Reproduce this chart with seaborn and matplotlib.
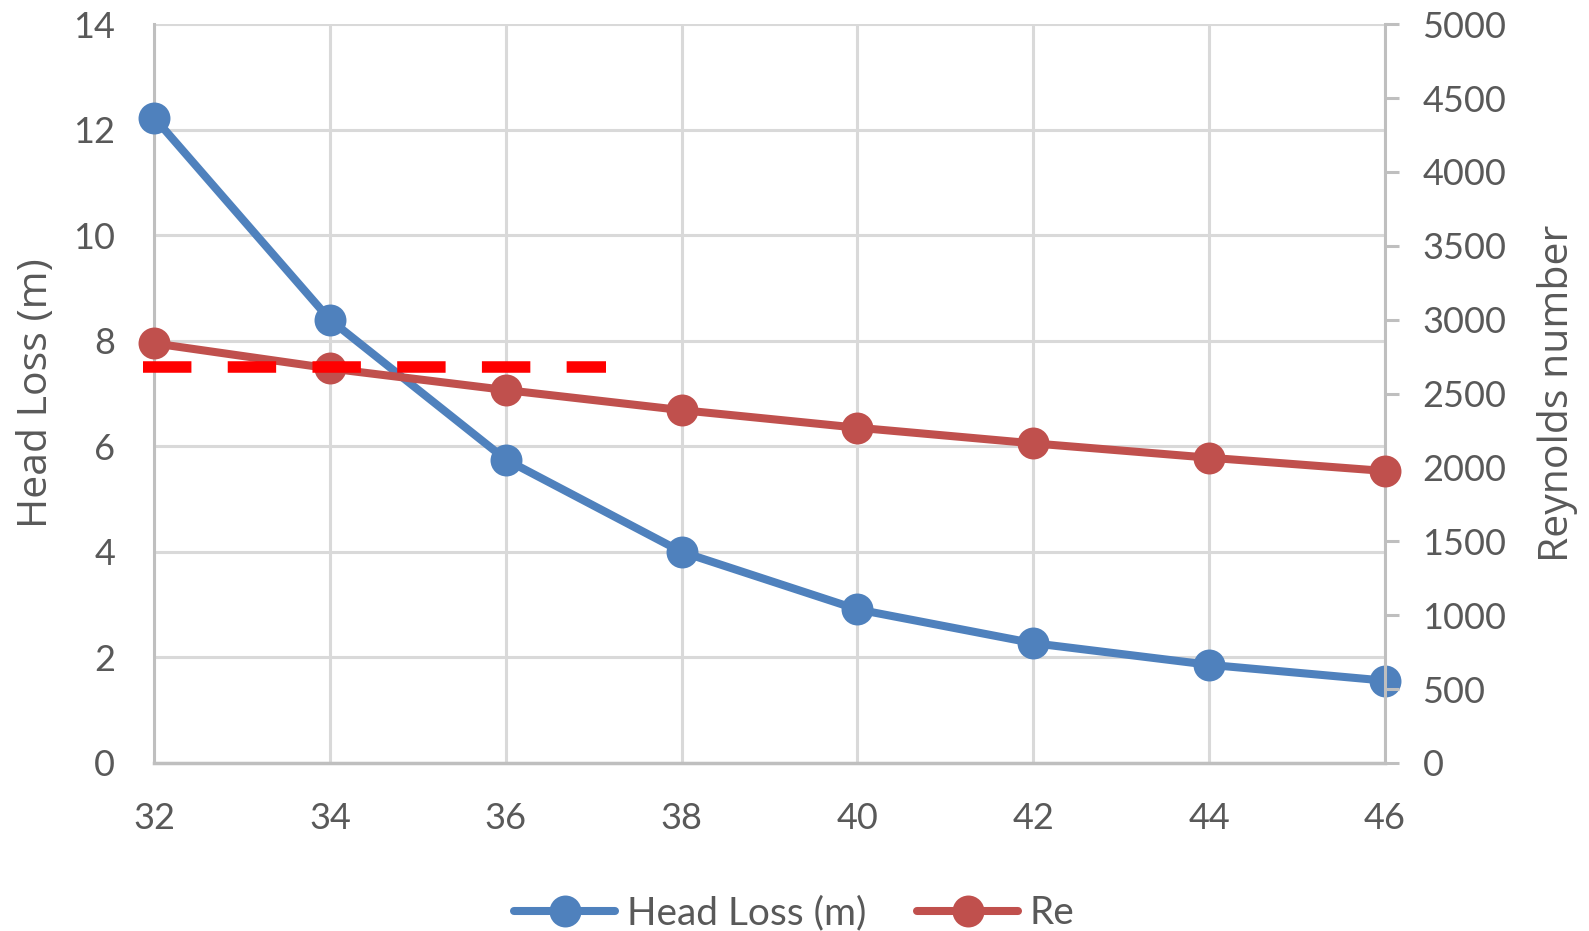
import matplotlib
matplotlib.use("Agg")
import matplotlib.pyplot as plt
import seaborn as sns
import pandas as pd
from matplotlib.lines import Line2D

# Data
diameter = [32, 34, 36, 38, 40, 42, 44, 46]
head_loss = [12.23, 8.40, 5.75, 4.00, 2.91, 2.27, 1.86, 1.56]
reynolds = [2840, 2670, 2524, 2388, 2269, 2163, 2066, 1976]
threshold_head = 7.5
threshold_x = [31.875, 37.14]

xticks = [32, 34, 36, 38, 40, 42, 44, 46]
yticks_left = [0, 2, 4, 6, 8, 10, 12, 14]
yticks_right = [0, 500, 1000, 1500, 2000, 2500, 3000, 3500, 4000, 4500, 5000]

sns.set_theme(style="white")
plt.rcParams['font.family'] = ['Lato', 'DejaVu Sans']

BLUE = "#4F81BD"
RED = "#C0504D"
GRID = "#D9D9D9"
SPINE = "#BFBFBF"
TEXT = "#595959"

df = pd.DataFrame({"d": diameter, "hl": head_loss, "re": reynolds})

fig = plt.figure(figsize=(15.89, 9.31), dpi=100)
ax = fig.add_axes([0.097, 0.1805, 0.7746, 0.7935])
ax2 = ax.twinx()

sns.lineplot(data=df, x="d", y="hl", ax=ax, color=BLUE, lw=5.8, marker="o",
             markersize=23, markeredgewidth=0, clip_on=False, zorder=3)
sns.lineplot(data=df, x="d", y="re", ax=ax2, color=RED, lw=5.8, marker="o",
             markersize=23, markeredgewidth=0, clip_on=False, zorder=3)

ax2.plot(threshold_x, [threshold_head, threshold_head], transform=ax.transData,
         color="#FF0000", lw=8.3, dashes=(4.2, 3.15), solid_capstyle="butt",
         dash_capstyle="butt", clip_on=False, zorder=5)

ax.set_xlim(32, 46)
ax.set_ylim(0, 14)
ax2.set_ylim(0, 5000)
ax.set_xticks(xticks)
ax.set_yticks(yticks_left)
ax2.set_yticks(yticks_right)

ax.grid(True, color=GRID, lw=2.2)
ax.set_axisbelow(True)
ax2.grid(False)

for a in (ax, ax2):
    for s in a.spines.values():
        s.set_visible(False)
ax.spines['left'].set_visible(True)
ax.spines['left'].set_color(SPINE)
ax.spines['left'].set_linewidth(2.2)
ax.spines['bottom'].set_visible(True)
ax.spines['bottom'].set_color(SPINE)
ax.spines['bottom'].set_linewidth(2.5)
ax2.spines['right'].set_visible(True)
ax2.spines['right'].set_color(SPINE)
ax2.spines['right'].set_linewidth(2.2)

ax.tick_params(axis='x', length=0, pad=28, labelsize=26, labelcolor=TEXT)
ax.tick_params(axis='y', length=0, pad=28, labelsize=26, labelcolor=TEXT)
ax2.tick_params(axis='y', right=True, direction='out', length=10, width=2.2,
                color=SPINE, pad=17, labelsize=26, labelcolor=TEXT)

ax.set_xlabel("")
ax.set_ylabel("Head Loss (m)", fontsize=29.5, color=TEXT, family=['Open Sans', 'DejaVu Sans'], labelpad=12)
ax2.set_ylabel("Reynolds number", fontsize=29.5, color=TEXT, family=['Open Sans', 'DejaVu Sans'], labelpad=22)

handles = [
    Line2D([], [], color=BLUE, lw=5.8, marker="o", markersize=23, markeredgewidth=0),
    Line2D([], [], color=RED, lw=5.8, marker="o", markersize=23, markeredgewidth=0),
]
fig.legend(handles, ["Head Loss (m)", "Re"], loc="center", bbox_to_anchor=(0.5, 0.019),
           ncol=2, frameon=False, fontsize=28, labelcolor=TEXT, handlelength=2.6,
           handletextpad=0.3, columnspacing=1.3)

fig.savefig("out.png", dpi=100)
